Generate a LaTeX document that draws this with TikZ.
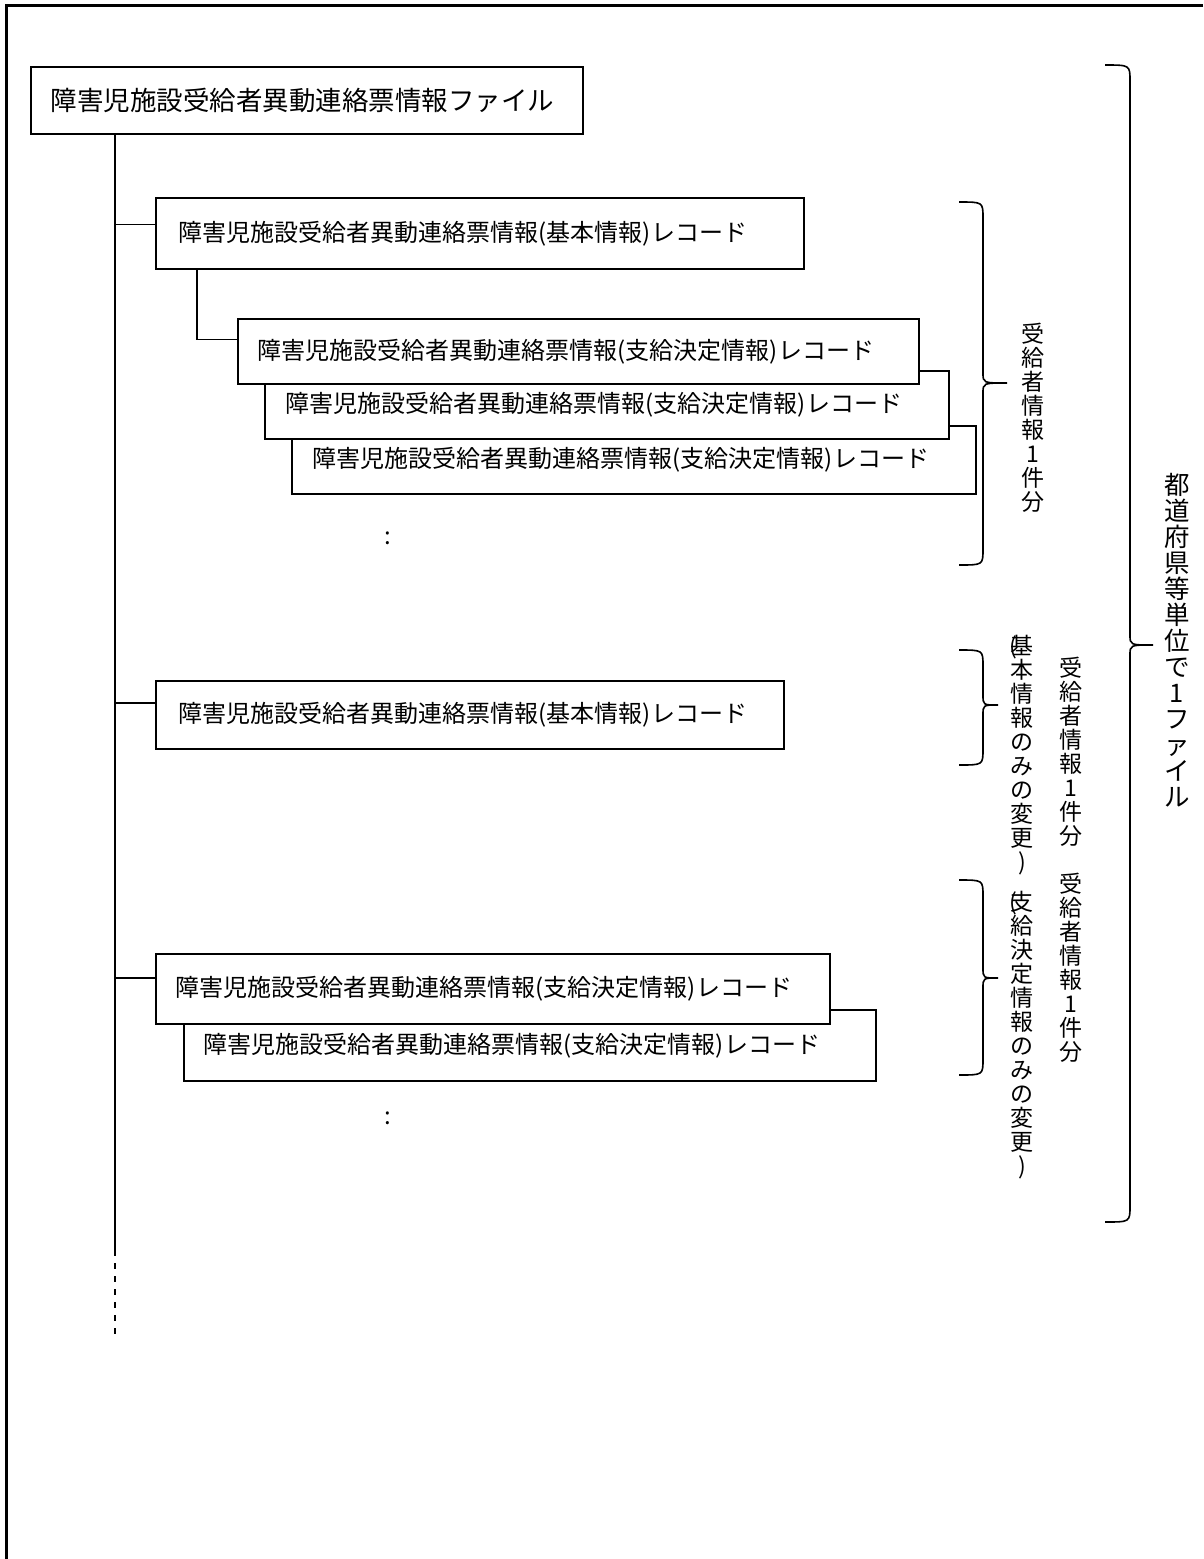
\documentclass[tikz,border=0pt]{standalone}
\usepackage{fontspec}
\newfontfamily\jp{Noto Sans CJK JP}
\newcommand{\mybrace}[6]{% #1 ends x, #2 spine x, #3 tip x, #4 top y, #5 tip y, #6 bottom y
  \draw[bracesty] (#1,#4) .. controls (#2,#4) .. (#2,#4+16) -- (#2,#5-10) .. controls (#2,#5) .. (#3,#5)
    .. controls (#2,#5) .. (#2,#5+10) -- (#2,#6-16) .. controls (#2,#6) .. (#1,#6);}
\begin{document}
\begin{tikzpicture}[x=1pt,y=-1pt,line width=1.6pt,
  recbox/.style={draw, fill=white, anchor=north west, inner ysep=0pt, align=left,
    font=\jp\fontsize{24}{24}\selectfont},
  bracesty/.style={line width=1.6pt},
  vtext/.style={inner sep=0pt, align=center, font=\jp\fontsize{23}{24}\selectfont},
  bigvtext/.style={inner sep=0pt, align=center, font=\jp\fontsize{25.5}{26}\selectfont},
  dotsty/.style={inner sep=0pt, font=\jp\fontsize{24}{24}\selectfont},
  frame/.style={line width=3pt}]
\useasboundingbox (0,0) rectangle (1203,1559);
% frame
\draw[frame] (1203,5) -- (6,5) -- (6,1559);
% file box
\node[recbox, font=\jp\fontsize{26.5}{26.5}\selectfont, inner xsep=20pt, text width=512pt, minimum height=67pt] (file) at (30,66) {障害児施設受給者異動連絡票情報ファイル};
% record boxes
\node[recbox, inner xsep=23pt, text width=602pt, minimum height=71pt] (b1) at (155,197) {障害児施設受給者異動連絡票情報(基本情報)レコード};
\node[recbox, inner xsep=21pt, text width=642pt, minimum height=68pt] (s3) at (291,425) {障害児施設受給者異動連絡票情報(支給決定情報)レコード};
\node[recbox, inner xsep=21pt, text width=642pt, minimum height=68pt] (s2) at (264,370) {障害児施設受給者異動連絡票情報(支給決定情報)レコード};
\node[recbox, inner xsep=20pt, text width=641pt, minimum height=65pt] (s1) at (237,318) {障害児施設受給者異動連絡票情報(支給決定情報)レコード};
\node[dotsty] (d1) at (388,538) {:};
\node[recbox, inner xsep=23pt, text width=582pt, minimum height=68pt] (b2) at (155,680) {障害児施設受給者異動連絡票情報(基本情報)レコード};
\node[recbox, inner xsep=20pt, text width=652pt, minimum height=71pt] (s5) at (183,1009) {障害児施設受給者異動連絡票情報(支給決定情報)レコード};
\node[recbox, inner xsep=20pt, text width=634pt, minimum height=70pt] (s4) at (155,953) {障害児施設受給者異動連絡票情報(支給決定情報)レコード};
\node[dotsty] (d2) at (388,1118) {:};
% trunk
\coordinate (tk) at (115,1250);
\coordinate (tkend) at (115,1335);
\draw (file.south -| tk) -- (tk);
\draw[dash pattern=on 6pt off 7pt] (tk) -- (tkend);
% branches
\coordinate (c1) at ([yshift=9pt]b1.west);
\coordinate (c2) at ([yshift=12pt]b2.west);
\coordinate (c3) at ([yshift=11pt]s4.west);
\coordinate (cs) at ([yshift=12pt]s1.west);
\draw (c1 -| tk) -- (c1);
\draw (c2 -| tk) -- (c2);
\draw (c3 -| tk) -- (c3);
\draw ([xshift=42pt]b1.south west) |- (cs);
% braces
\mybrace{1105}{1130}{1153}{65}{645}{1222}
\mybrace{959}{983}{1007}{202}{383}{565}
\mybrace{959}{983}{998}{650}{705}{765}
\mybrace{959}{983}{998}{880}{978}{1075}
% vertical texts
\node[bigvtext] (t0) at (1177,640) {都\\道\\府\\県\\等\\単\\位\\で\\1\\フ\\ァ\\イ\\ル};
\node[vtext] (t1) at (1033,418) {受\\給\\者\\情\\報\\1\\件\\分};
\node[vtext] (t2a) at (1071,752) {受\\給\\者\\情\\報\\1\\件\\分};
\node[vtext] (t2b) at (1022,755) {\llap{(\kern-7pt}基\\本\\情\\報\\の\\み\\の\\変\\更\\)};
\node[vtext] (t3a) at (1071,968) {受\\給\\者\\情\\報\\1\\件\\分};
\node[vtext] (t3b) at (1022,1035) {\llap{(\kern-7pt}支\\給\\決\\定\\情\\報\\の\\み\\の\\変\\更\\)};
\end{tikzpicture}
\end{document}
